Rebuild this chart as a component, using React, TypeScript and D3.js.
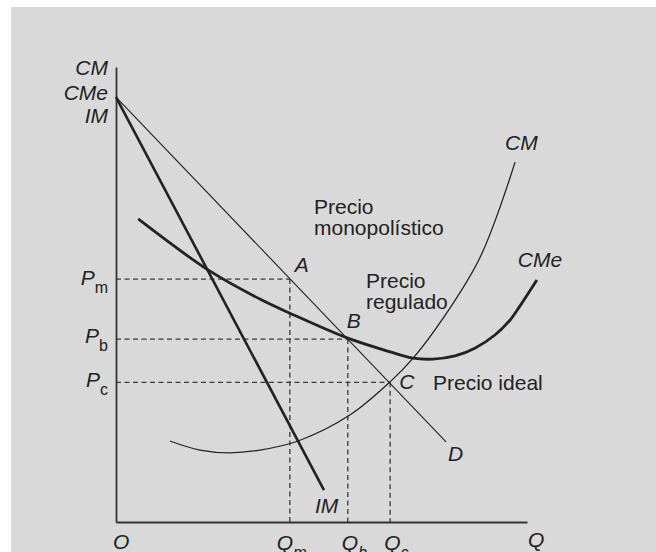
import React, { useEffect, useRef } from 'react';
import * as d3 from 'd3';

// demand (D) and marginal revenue (IM) are straight lines
const demandQ = [0, 80.3];
const demandP = [93.4, 17.6];
const imQ = [0, 50.6];
const imP = [93.4, 7.0];

// marginal cost (CM), thin
const cmQ = [13.1, 20.4, 27.7, 35.0, 44.3, 56.9, 66.7, 72.3, 79.3, 88.6, 97.1];
const cmP = [17.8, 15.8, 15.2, 15.8, 17.8, 23.5, 30.8, 36.0, 44.4, 58.2, 79.1];

// average cost (CMe), thick
const cmeQ = [5.4, 22.4, 35.0, 42.3, 56.4, 66.7, 72.3, 77.1, 82.5, 87.3, 92.2, 95.9, 98.3, 102.4];
const cmeP = [66.6, 55.4, 49.0, 45.9, 40.4, 37.4, 36.0, 35.8, 36.5, 38.2, 41.1, 44.4, 47.5, 53.2];

// price / quantity levels: monopoly, regulated, ideal
const levelSubs = ['m', 'b', 'c'];
const levelNames = ['A', 'B', 'C'];
const priceLevels = [53.4, 40.2, 30.7];
const qtyLevels = [42.3, 56.4, 66.7];

const W = 656;
const H = 552;
const INK = '#222';
const FONT = "'Liberation Sans', Arial, Helvetica, sans-serif";
const FS = 21;

const App: React.FC = () => {
  const svgRef = useRef<SVGSVGElement>(null);

  useEffect(() => {
    if (!svgRef.current) return;
    const svg = d3.select(svgRef.current);
    svg.selectAll('*').remove();

    const x = d3.scaleLinear().domain([0, 100]).range([116, 527]);
    const y = d3.scaleLinear().domain([0, 100]).range([522, 67]);

    svg.append('rect')
      .attr('x', 11).attr('y', 7)
      .attr('width', W - 11).attr('height', H - 7)
      .attr('fill', '#d9d9d9');

    const g = svg.append('g').attr('font-family', FONT).attr('fill', INK);

    // dashed guides
    priceLevels.forEach((p, i) => {
      const q = qtyLevels[i];
      g.append('line')
        .attr('x1', x(0)).attr('x2', x(q))
        .attr('y1', y(p)).attr('y2', y(p))
        .attr('stroke', '#3a3a3a').attr('stroke-width', 1.3)
        .attr('stroke-dasharray', '5,3.5');
      g.append('line')
        .attr('x1', x(q)).attr('x2', x(q))
        .attr('y1', y(p)).attr('y2', y(0))
        .attr('stroke', '#3a3a3a').attr('stroke-width', 1.3)
        .attr('stroke-dasharray', '5,3.5');
    });

    // axes
    g.append('g')
      .attr('transform', `translate(0,${y(0)})`)
      .call(d3.axisBottom(x).ticks(0).tickSizeOuter(0))
      .call(a => a.select('.domain').attr('stroke', '#333').attr('stroke-width', 1.8));
    g.append('g')
      .attr('transform', `translate(${x(0)},0)`)
      .call(d3.axisLeft(y).ticks(0).tickSizeOuter(0))
      .call(a => a.select('.domain').attr('stroke', '#333').attr('stroke-width', 1.8));

    const line = (qs: number[], ps: number[], curve: d3.CurveFactory) =>
      d3.line<number>()
        .x((_, i) => x(qs[i]))
        .y(d => y(d))
        .curve(curve)(ps);

    g.append('path').attr('d', line(demandQ, demandP, d3.curveLinear))
      .attr('fill', 'none').attr('stroke', INK).attr('stroke-width', 1.1);
    g.append('path').attr('d', line(imQ, imP, d3.curveLinear))
      .attr('fill', 'none').attr('stroke', INK).attr('stroke-width', 2.6);
    g.append('path').attr('d', line(cmQ, cmP, d3.curveCatmullRom))
      .attr('fill', 'none').attr('stroke', INK).attr('stroke-width', 1.3);
    g.append('path').attr('d', line(cmeQ, cmeP, d3.curveCatmullRom))
      .attr('fill', 'none').attr('stroke', INK).attr('stroke-width', 2.8);

    const text = (tx: number, ty: number, s: string, italic = true, anchor = 'start') =>
      g.append('text')
        .attr('x', tx).attr('y', ty)
        .attr('font-size', FS)
        .attr('font-style', italic ? 'italic' : 'normal')
        .attr('text-anchor', anchor)
        .text(s);

    // y-axis title
    text(x(0) - 8, 75, 'CM', true, 'end');
    text(x(0) - 8, 100, 'CMe', true, 'end');
    text(x(0) - 8, 123, 'IM', true, 'end');

    // price labels
    const pOffsets = [6, 4, 5];
    priceLevels.forEach((p, i) => {
      const t = g.append('text')
        .attr('x', x(0) - 8).attr('y', y(p) + pOffsets[i])
        .attr('font-size', FS).attr('text-anchor', 'end');
      t.append('tspan').attr('font-style', 'italic').text('P');
      t.append('tspan').attr('font-size', 16).attr('dy', 8).text(levelSubs[i]);
    });

    // quantity labels
    const qOffsets = [-13, -6, -6];
    qtyLevels.forEach((q, i) => {
      const t = g.append('text')
        .attr('x', x(q) + qOffsets[i]).attr('y', 550)
        .attr('font-size', FS).attr('font-style', 'italic');
      t.append('tspan').text('Q');
      t.append('tspan').attr('font-size', 16).attr('dy', 8).text(levelSubs[i]);
    });
    text(x(0) - 3, 549, 'O');
    text(x(100) + 1, 547, 'Q');

    // point labels
    const ptOffsets = [[5, -7], [-1, -11], [9, 7]];
    levelNames.forEach((n, i) => {
      text(x(qtyLevels[i]) + ptOffsets[i][0], y(priceLevels[i]) + ptOffsets[i][1], n);
    });

    // curve end labels
    text(x(demandQ[1]) + 2, y(demandP[1]) + 19, 'D');
    text(x(imQ[1]) - 9, y(imP[1]) + 23, 'IM');
    text(x(cmQ[cmQ.length - 1]) - 10, y(cmP[cmP.length - 1]) - 12, 'CM');
    text(x(cmeQ[cmeQ.length - 1]) - 19, y(cmeP[cmeP.length - 1]) - 13, 'CMe');

    // annotations
    text(314, 214, 'Precio', false);
    text(314, 235, 'monopolístico', false);
    text(366, 288, 'Precio', false);
    text(366, 309, 'regulado', false);
    text(433, 390, 'Precio ideal', false);
  }, []);

  return (
    <svg
      ref={svgRef}
      width={W}
      height={H}
      style={{ display: 'block', position: 'absolute', left: 0, top: 0, background: '#fff' }}
    />
  );
};

export default App;
